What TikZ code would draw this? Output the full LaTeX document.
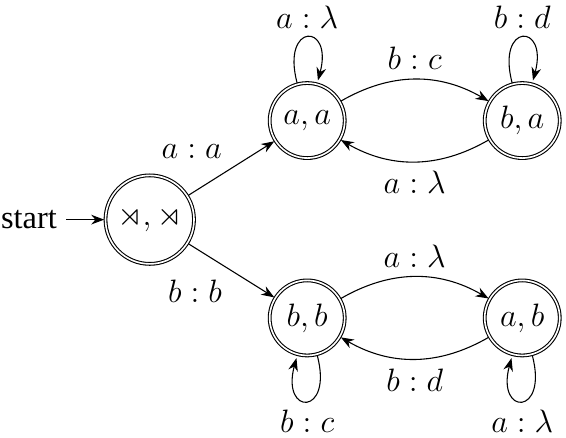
\documentclass[tikz,border=0pt]{standalone}
\usepackage[no-math]{fontspec}
\setmainfont{Liberation Serif}
\usepackage{amssymb}
\usetikzlibrary{automata,arrows.meta}
\begin{document}
\begin{tikzpicture}[
    font=\fontsize{12}{14}\selectfont,
    >={Stealth},
    every state/.style={draw=black, minimum size=27.8pt, inner sep=2.7pt, accepting},
    startstate/.style={minimum size=32.4pt},
    trans/.style={->},
    initial text=start,
    initial distance=14pt
]
\useasboundingbox (0,0) rectangle (7.37,-5.70);

%  -- States  --
\node[state, startstate, initial] (s0) at (1.95, -2.86) {$\rtimes, \rtimes$};
\node[state] (aa) at (4.00, -1.57) {$a, a$};
\node[state] (ba) at (6.80, -1.57) {$b, a$};
\node[state] (bb) at (4.00, -4.14) {$b, b$};
\node[state] (ab) at (6.80, -4.14) {$a, b$};

%  -- Transitions  --
\draw[trans] (s0) edge node[above left] {$a : a$} (aa);
\draw[trans] (s0) edge node[below left] {$b : b$} (bb);
\draw[trans] (aa) edge[loop above] node[above] {$a : \lambda$} (aa);
\draw[trans] (aa) edge[bend left] node[above] {$b : c$} (ba);
\draw[trans] (ba) edge[bend left] node[below] {$a : \lambda$} (aa);
\draw[trans] (ba) edge[loop above] node[above] {$b : d$} (ba);
\draw[trans] (bb) edge[loop below] node[below] {$b : c$} (bb);
\draw[trans] (bb) edge[bend left] node[above] {$a : \lambda$} (ab);
\draw[trans] (ab) edge[bend left] node[below] {$b : d$} (bb);
\draw[trans] (ab) edge[loop below] node[below] {$a : \lambda$} (ab);

\end{tikzpicture}
\end{document}
